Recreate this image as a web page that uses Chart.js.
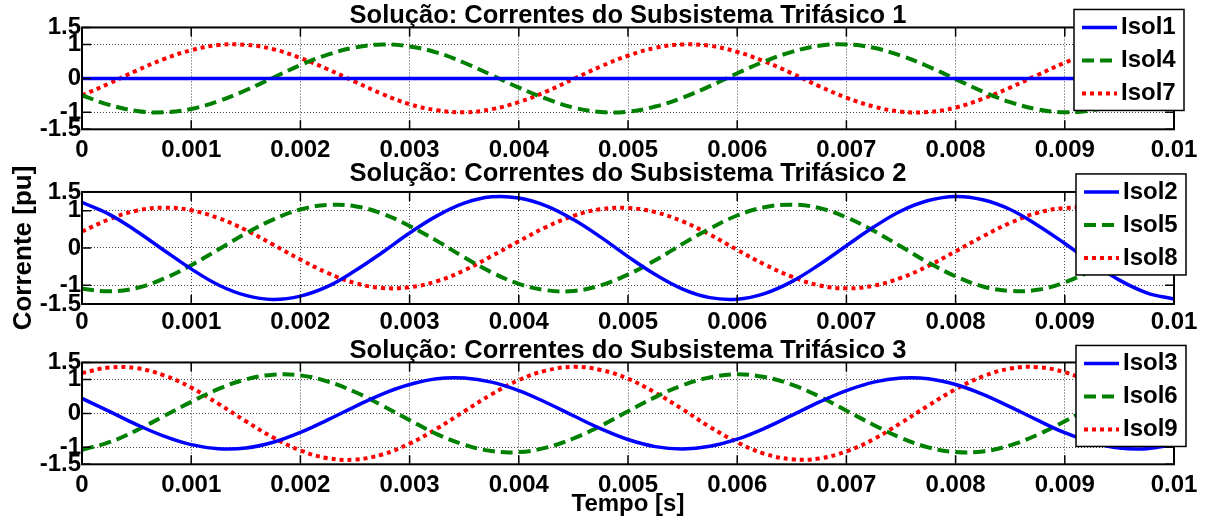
<!DOCTYPE html>
<html>
<head>
<meta charset="utf-8">
<title>Correntes dos Subsistemas Trifásicos</title>
<script src="https://cdn.jsdelivr.net/npm/chart.js"></script>
<style>
body { margin: 0; background: #fff; }
#page { position: relative; width: 1211px; height: 524px; overflow: hidden; background: #fff; }
.plot { position: absolute; left: 0; }
</style>
</head>
<body>
<div id="page">
  <canvas id="sub1" class="plot" width="1211" height="165" style="top:0px"></canvas>
  <canvas id="sub2" class="plot" width="1211" height="180" style="top:160px"></canvas>
  <canvas id="sub3" class="plot" width="1211" height="194" style="top:330px"></canvas>
</div>
<script>
// tempo de amostragem [s]
var tempo = [0, 0.00025, 0.0005, 0.00075, 0.001, 0.00125, 0.0015, 0.00175, 0.002, 0.00225,
             0.0025, 0.00275, 0.003, 0.00325, 0.0035, 0.00375, 0.004, 0.00425, 0.0045, 0.00475,
             0.005, 0.00525, 0.0055, 0.00575, 0.006, 0.00625, 0.0065, 0.00675, 0.007, 0.00725,
             0.0075, 0.00775, 0.008, 0.00825, 0.0085, 0.00875, 0.009, 0.00925, 0.0095, 0.00975, 0.01];

var xTicks = [0, 0.001, 0.002, 0.003, 0.004, 0.005, 0.006, 0.007, 0.008, 0.009, 0.01];
var xTickLabels = ['0', '0.001', '0.002', '0.003', '0.004', '0.005', '0.006', '0.007', '0.008', '0.009', '0.01'];
var yTicks = [-1.5, -1, 0, 1, 1.5];
var yTickLabels = ['-1.5', '-1', '0', '1', '1.5'];

// Subsistema 1
var isol1 = [0, 0, 0, 0, 0, 0, 0, 0, 0, 0, 0, 0, 0, 0, 0, 0, 0, 0, 0, 0, 0,
             0, 0, 0, 0, 0, 0, 0, 0, 0, 0, 0, 0, 0, 0, 0, 0, 0, 0, 0, 0];
var isol4 = [-0.5, -0.78, -0.96, -1.0, -0.9, -0.67, -0.35, 0.02, 0.39, 0.7, 0.91, 1.0, 0.94, 0.76,
             0.46, 0.1, -0.27, -0.6, -0.86, -0.99, -0.98, -0.83, -0.57, -0.23, 0.15, 0.5, 0.78,
             0.96, 1.0, 0.9, 0.67, 0.35, -0.02, -0.39, -0.7, -0.91, -1.0, -0.94, -0.76, -0.46, -0.1];
var isol7 = [-0.5, -0.15, 0.23, 0.57, 0.83, 0.98, 0.99, 0.86, 0.6, 0.27, -0.1, -0.46, -0.76, -0.94,
             -1.0, -0.91, -0.7, -0.39, -0.02, 0.35, 0.67, 0.9, 1.0, 0.96, 0.78, 0.5, 0.15,
             -0.23, -0.57, -0.83, -0.98, -0.99, -0.86, -0.6, -0.27, 0.1, 0.46, 0.76, 0.94, 1.0, 0.91];

// Subsistema 2
var isol2 = [1.22, 0.9, 0.45, -0.06, -0.56, -0.99, -1.27, -1.38, -1.29, -1.03, -0.61, -0.12, 0.4, 0.86,
             1.2, 1.37, 1.34, 1.13, 0.76, 0.29, -0.23, -0.71, -1.1, -1.33, -1.37, -1.22, -0.9,
             -0.45, 0.06, 0.56, 0.99, 1.27, 1.38, 1.29, 1.03, 0.61, 0.12, -0.4, -0.86, -1.2, -1.37];
var isol5 = [-1.09, -1.16, -1.07, -0.82, -0.46, -0.04, 0.39, 0.76, 1.03, 1.15, 1.12, 0.92, 0.59, 0.19,
             -0.25, -0.65, -0.96, -1.13, -1.15, -1.0, -0.71, -0.33, 0.11, 0.52, 0.87, 1.09, 1.16,
             1.07, 0.82, 0.46, 0.04, -0.39, -0.76, -1.03, -1.15, -1.12, -0.92, -0.59, -0.19, 0.25, 0.65];
var isol8 = [0.44, 0.77, 1.0, 1.08, 1.01, 0.8, 0.48, 0.09, -0.31, -0.67, -0.94, -1.07, -1.05, -0.89,
             -0.6, -0.22, 0.18, 0.56, 0.86, 1.04, 1.07, 0.96, 0.71, 0.36, -0.05, -0.44, -0.77,
             -1.0, -1.08, -1.01, -0.8, -0.48, -0.09, 0.31, 0.67, 0.94, 1.07, 1.05, 0.89, 0.6, 0.22];

// Subsistema 3
var isol3 = [0.44, 0.06, -0.33, -0.67, -0.92, -1.04, -1.02, -0.85, -0.56, -0.19, 0.2, 0.57, 0.85, 1.02,
             1.04, 0.92, 0.67, 0.32, -0.07, -0.45, -0.77, -0.98, -1.05, -0.97, -0.76, -0.44, -0.06,
             0.33, 0.67, 0.92, 1.04, 1.02, 0.85, 0.56, 0.19, -0.2, -0.57, -0.85, -1.02, -1.04, -0.92];
var isol6 = [-1.07, -0.85, -0.5, -0.08, 0.34, 0.72, 1.0, 1.14, 1.12, 0.94, 0.63, 0.23, -0.2, -0.61,
             -0.92, -1.11, -1.14, -1.01, -0.74, -0.37, 0.06, 0.48, 0.83, 1.06, 1.15, 1.07, 0.85,
             0.5, 0.08, -0.34, -0.72, -1.0, -1.14, -1.12, -0.94, -0.63, -0.23, 0.2, 0.61, 0.92, 1.11];
var isol9 = [1.19, 1.35, 1.33, 1.12, 0.76, 0.28, -0.23, -0.71, -1.09, -1.32, -1.36, -1.21, -0.89, -0.45,
             0.06, 0.56, 0.98, 1.26, 1.37, 1.28, 1.02, 0.61, 0.12, -0.4, -0.85, -1.19, -1.35,
             -1.33, -1.12, -0.76, -0.28, 0.23, 0.71, 1.09, 1.32, 1.36, 1.21, 0.89, 0.45, -0.06, -0.56];

var FONTE = "'Liberation Sans', Arial, Helvetica, sans-serif";

Chart.defaults.font.family = FONTE;
Chart.defaults.font.weight = 'bold';
Chart.defaults.color = '#000';

// estilos de linha: cheia azul, tracejada verde, pontilhada vermelha
var estilos = [
  { cor: '#0000ff', largura: 3.5, traco: [] },
  { cor: '#008000', largura: 4, traco: [12, 6] },
  { cor: '#ff0000', largura: 4, traco: [4, 4] }
];

function pontos(serie) {
  return tempo.map(function (t, i) { return { x: t, y: serie[i] }; });
}

// caixa dos eixos com marcas de escala para dentro
var caixaEixos = {
  id: 'caixaEixos',
  afterDatasetsDraw: function (chart) {
    var a = chart.chartArea, ctx = chart.ctx;
    var sx = chart.scales.x, sy = chart.scales.y;
    ctx.save();
    ctx.setLineDash([]);
    ctx.strokeStyle = '#000';
    ctx.lineWidth = 1.5;
    ctx.beginPath();
    sx.ticks.forEach(function (t) {
      var px = sx.getPixelForValue(t.value);
      ctx.moveTo(px, a.bottom); ctx.lineTo(px, a.bottom - 9);
      ctx.moveTo(px, a.top); ctx.lineTo(px, a.top + 9);
    });
    sy.ticks.forEach(function (t) {
      var py = sy.getPixelForValue(t.value);
      ctx.moveTo(a.left, py); ctx.lineTo(a.left + 9, py);
      ctx.moveTo(a.right, py); ctx.lineTo(a.right - 9, py);
    });
    ctx.stroke();
    ctx.lineWidth = 2;
    ctx.strokeRect(a.left, a.top, a.right - a.left, a.bottom - a.top);
    ctx.restore();
  }
};

// legenda no canto superior direito, por cima do grafico
var legendaCaixa = {
  id: 'legendaCaixa',
  afterDraw: function (chart, args, opts) {
    var a = chart.chartArea, ctx = chart.ctx;
    var x0 = a.right + opts.dx - opts.largura;
    var y0 = a.top + opts.dy;
    ctx.save();
    ctx.setLineDash([]);
    ctx.fillStyle = '#fff';
    ctx.fillRect(x0, y0, opts.largura, opts.altura);
    ctx.strokeStyle = '#000';
    ctx.lineWidth = 1.5;
    ctx.strokeRect(x0, y0, opts.largura, opts.altura);
    chart.data.datasets.forEach(function (ds, i) {
      var y = y0 + 18 + i * 33;
      ctx.strokeStyle = ds.borderColor;
      ctx.lineWidth = ds.borderWidth;
      ctx.setLineDash(ds.borderDash);
      ctx.beginPath();
      ctx.moveTo(x0 + 8, y);
      ctx.lineTo(x0 + 43, y);
      ctx.stroke();
      ctx.setLineDash([]);
      ctx.fillStyle = '#000';
      ctx.font = 'bold 24px ' + FONTE;
      ctx.textAlign = 'left';
      ctx.textBaseline = 'middle';
      ctx.fillText(ds.label, x0 + 47, y);
    });
    ctx.restore();
  }
};

function subplot(id, titulo, nomes, series, g) {
  var datasets = series.map(function (s, i) {
    return {
      label: nomes[i],
      data: pontos(s),
      borderColor: estilos[i].cor,
      borderWidth: estilos[i].largura,
      borderDash: estilos[i].traco,
      borderCapStyle: 'butt',
      pointRadius: 0,
      tension: 0.4,
      fill: false
    };
  });

  var grade = { color: '#444', lineWidth: 1, drawTicks: false };

  new Chart(document.getElementById(id), {
    type: 'line',
    data: { datasets: datasets },
    options: {
      responsive: false,
      animation: false,
      events: [],
      layout: { padding: { left: 0, right: 37, top: 0, bottom: 0 } },
      plugins: {
        legend: { display: false },
        tooltip: { enabled: false },
        title: {
          display: true,
          text: titulo,
          fullSize: false,
          color: '#000',
          font: { size: 25.5, weight: 'bold', lineHeight: 0.92 },
          padding: { top: g.tituloTopo, bottom: g.tituloBase }
        },
        legendaCaixa: { dx: g.legDx, dy: g.legDy, largura: 110, altura: 101 }
      },
      scales: {
        x: {
          type: 'linear',
          min: 0,
          max: 0.01,
          afterBuildTicks: function (s) {
            s.ticks = xTicks.map(function (v) { return { value: v }; });
          },
          afterFit: function (s) { s.height = g.alturaX; },
          ticks: {
            autoSkip: false,
            maxRotation: 0,
            minRotation: 0,
            padding: g.padX,
            font: { size: 24, weight: 'bold' },
            callback: function (v, i) { return xTickLabels[i]; }
          },
          grid: grade,
          border: { display: false, dash: [1, 2] },
          title: {
            display: !!g.rotuloX,
            text: g.rotuloX || '',
            font: { size: 24, weight: 'bold' },
            padding: { top: 0, bottom: 5 }
          }
        },
        y: {
          min: -1.5,
          max: 1.5,
          afterBuildTicks: function (s) {
            s.ticks = yTicks.map(function (v) { return { value: v }; });
          },
          afterFit: function (s) { s.width = 82; },
          ticks: {
            autoSkip: false,
            padding: 1,
            font: { size: 24, weight: 'bold' },
            callback: function (v, i) { return yTickLabels[i]; }
          },
          grid: grade,
          border: { display: false, dash: [1, 2] },
          title: {
            display: !!g.rotuloY,
            text: g.rotuloY || '',
            font: { size: 26, weight: 'bold' },
            padding: { top: 8, bottom: 0 }
          }
        }
      }
    },
    plugins: [caixaEixos, legendaCaixa]
  });
}

subplot('sub1', 'Solução: Correntes do Subsistema Trifásico 1', ['Isol1', 'Isol4', 'Isol7'],
        [isol1, isol4, isol7],
        { tituloTopo: 4, tituloBase: 0, alturaX: 35.7, padX: 7, legDx: 10, legDy: -18 });

subplot('sub2', 'Solução: Correntes do Subsistema Trifásico 2', ['Isol2', 'Isol5', 'Isol8'],
        [isol2, isol5, isol8],
        { tituloTopo: 2.5, tituloBase: 6, alturaX: 36, padX: 4, legDx: 12, legDy: -18, rotuloY: 'Corrente [pu]' });

subplot('sub3', 'Solução: Correntes do Subsistema Trifásico 3', ['Isol3', 'Isol6', 'Isol9'],
        [isol3, isol6, isol9],
        { tituloTopo: 9, tituloBase: 0, alturaX: 59.7, padX: 7, legDx: 12, legDy: -17, rotuloX: 'Tempo [s]' });
</script>
</body>
</html>
